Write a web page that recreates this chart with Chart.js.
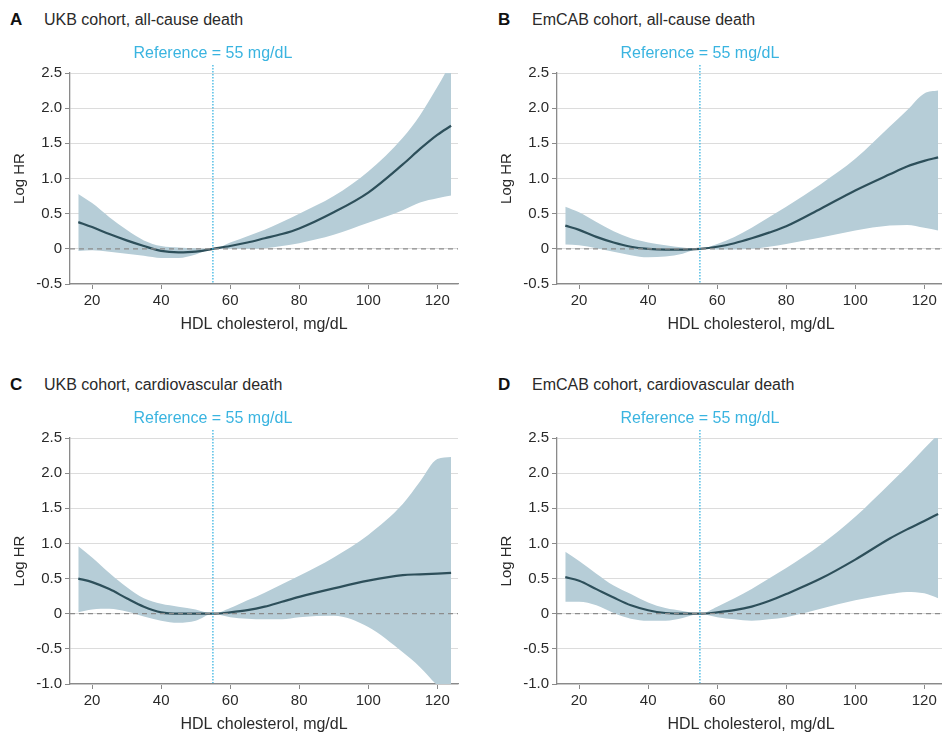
<!DOCTYPE html>
<html>
<head>
<meta charset="utf-8">
<script src="https://cdn.jsdelivr.net/npm/chart.js@4.4.1/dist/chart.umd.min.js"></script>
<style>
  body { margin: 0; background: #fff; width: 942px; height: 734px; overflow: hidden; position: relative; font-family: "Liberation Sans", Arial, sans-serif; }
  canvas { position: absolute; }
  .ttl { position: absolute; font-size: 16px; color: #2a2a2a; white-space: nowrap; line-height: 20px; }
  .ttl b { color: #111; font-size: 17px; position: absolute; left: -34px; }
</style>
</head>
<body>
<div class="ttl" style="left:44px;top:10px"><b>A</b>UKB cohort, all-cause death</div>
<div class="ttl" style="left:532px;top:10px"><b>B</b>EmCAB cohort, all-cause death</div>
<div class="ttl" style="left:44px;top:375px"><b>C</b>UKB cohort, cardiovascular death</div>
<div class="ttl" style="left:532px;top:375px"><b>D</b>EmCAB cohort, cardiovascular death</div>

<canvas id="cA" width="470" height="304" style="left:0;top:30px"></canvas>
<canvas id="cB" width="470" height="304" style="left:487px;top:30px"></canvas>
<canvas id="cC" width="470" height="339" style="left:0;top:395px"></canvas>
<canvas id="cD" width="470" height="339" style="left:487px;top:395px"></canvas>

<script>
// HDL cholesterol grid, mg/dL
const hdl = [16, 20, 25, 30, 35, 40, 45, 50, 55, 60, 65, 70, 75, 80, 90, 100, 110, 115, 120, 124];
const xTicks = [20, 40, 60, 80, 100, 120];
const yTicksTop = [-0.5, 0, 0.5, 1.0, 1.5, 2.0, 2.5];
const yTicksBottom = [-1.0, -0.5, 0, 0.5, 1.0, 1.5, 2.0, 2.5];
const refHdl = 55;

// A: UKB all-cause
const ukbAllEst   = [0.38, 0.31, 0.21, 0.12, 0.04, -0.03, -0.05, -0.04, 0, 0.04, 0.09, 0.15, 0.21, 0.29, 0.52, 0.80, 1.20, 1.42, 1.62, 1.75];
const ukbAllUpper = [0.78, 0.65, 0.45, 0.27, 0.12, 0.04, 0.02, 0.01, 0, 0.09, 0.18, 0.27, 0.38, 0.50, 0.75, 1.10, 1.58, 1.90, 2.30, 2.65];
const ukbAllLower = [-0.03, -0.02, -0.04, -0.07, -0.10, -0.13, -0.13, -0.08, 0, 0, 0, 0.01, 0.04, 0.08, 0.20, 0.37, 0.55, 0.66, 0.72, 0.76];

// B: EmCAB all-cause
const emcAllEst   = [0.33, 0.27, 0.17, 0.09, 0.03, 0.00, -0.01, -0.01, 0, 0.03, 0.08, 0.15, 0.23, 0.32, 0.57, 0.83, 1.06, 1.17, 1.25, 1.30];
const emcAllUpper = [0.60, 0.52, 0.38, 0.25, 0.15, 0.09, 0.05, 0.02, 0, 0.07, 0.17, 0.30, 0.45, 0.60, 0.92, 1.28, 1.74, 1.97, 2.21, 2.25];
const emcAllLower = [0.06, 0.05, 0.01, -0.04, -0.09, -0.12, -0.11, -0.07, 0, -0.01, -0.01, 0.00, 0.03, 0.07, 0.16, 0.26, 0.33, 0.34, 0.30, 0.26];

// C: UKB cardiovascular
const ukbCvEst   = [0.50, 0.45, 0.35, 0.22, 0.10, 0.02, 0.00, 0.00, 0, 0.02, 0.05, 0.10, 0.17, 0.24, 0.36, 0.47, 0.55, 0.56, 0.57, 0.58];
const ukbCvUpper = [0.96, 0.80, 0.58, 0.38, 0.22, 0.14, 0.10, 0.06, 0, 0.08, 0.19, 0.30, 0.42, 0.54, 0.80, 1.12, 1.56, 1.88, 2.20, 2.23];
const ukbCvLower = [0.02, 0.06, 0.07, 0.03, -0.04, -0.10, -0.13, -0.10, 0, -0.05, -0.07, -0.08, -0.08, -0.05, -0.03, -0.19, -0.55, -0.76, -1.02, -1.20];

// D: EmCAB cardiovascular
const emcCvEst   = [0.52, 0.47, 0.35, 0.23, 0.12, 0.05, 0.01, 0.00, 0, 0.02, 0.05, 0.10, 0.18, 0.28, 0.50, 0.77, 1.07, 1.20, 1.32, 1.42];
const emcCvUpper = [0.88, 0.75, 0.57, 0.40, 0.28, 0.16, 0.08, 0.04, 0, 0.10, 0.22, 0.35, 0.50, 0.65, 0.98, 1.38, 1.85, 2.09, 2.35, 2.55];
const emcCvLower = [0.17, 0.17, 0.12, 0.01, -0.07, -0.10, -0.10, -0.06, 0, -0.05, -0.08, -0.10, -0.08, -0.05, 0.07, 0.19, 0.28, 0.31, 0.29, 0.22];

const FONT = "'Liberation Sans', Arial, sans-serif";
const TXT = '#2a2a2a';
const AXIS = '#8a8a8a';

const pts = ys => hdl.map((x, i) => ({ x: x, y: ys[i] }));

const refLines = {
  id: 'refLines',
  afterDatasetsDraw(chart) {
    const { ctx, chartArea: a, scales: { x, y } } = chart;
    const y0 = y.getPixelForValue(0);
    const xr = x.getPixelForValue(refHdl);
    ctx.save();
    // zero line
    ctx.strokeStyle = '#8c8c8c';
    ctx.lineWidth = 1.2;
    ctx.setLineDash([5, 4]);
    ctx.beginPath();
    ctx.moveTo(a.left, y0);
    ctx.lineTo(a.right, y0);
    ctx.stroke();
    // reference line
    ctx.strokeStyle = '#3ab4e0';
    ctx.lineWidth = 1.3;
    ctx.setLineDash([1.5, 1.5]);
    ctx.beginPath();
    ctx.moveTo(xr, a.top - 8);
    ctx.lineTo(xr, a.bottom - 1);
    ctx.stroke();
    ctx.setLineDash([]);
    ctx.fillStyle = '#3ab4e0';
    ctx.font = '16px ' + FONT;
    ctx.textAlign = 'center';
    ctx.textBaseline = 'middle';
    ctx.fillText('Reference = 55 mg/dL', xr, a.top - 19);
    ctx.restore();
  }
};

function makePanel(id, est, upper, lower, yMin, yTicks) {
  new Chart(document.getElementById(id), {
    type: 'line',
    data: {
      datasets: [
        { data: pts(est), borderColor: '#2d4f5a', borderWidth: 2.2, pointRadius: 0, fill: false, cubicInterpolationMode: 'monotone' },
        { data: pts(upper), borderWidth: 0, borderColor: 'rgba(0,0,0,0)', pointRadius: 0, fill: '+1', backgroundColor: '#b6cdd7', cubicInterpolationMode: 'monotone' },
        { data: pts(lower), borderWidth: 0, borderColor: 'rgba(0,0,0,0)', pointRadius: 0, fill: false, cubicInterpolationMode: 'monotone' }
      ]
    },
    options: {
      responsive: false,
      animation: false,
      devicePixelRatio: 1,
      layout: { padding: { top: 43, right: 12, left: 0, bottom: 0 } },
      plugins: { legend: { display: false }, tooltip: { enabled: false } },
      scales: {
        x: {
          type: 'linear',
          min: 13.6,
          max: 126,
          afterBuildTicks: s => { s.ticks = xTicks.map(v => ({ value: v })); },
          afterFit: s => { s.height = 50; },
          grid: { drawOnChartArea: false, color: AXIS, tickLength: 5, tickColor: AXIS },
          border: { color: AXIS, width: 1.3 },
          ticks: { color: TXT, font: { family: FONT, size: 15 }, padding: 3, maxRotation: 0 },
          title: { display: true, text: 'HDL cholesterol, mg/dL', color: TXT, font: { family: FONT, size: 16 }, padding: 0 }
        },
        y: {
          min: yMin,
          max: 2.5,
          afterBuildTicks: s => { s.ticks = yTicks.map(v => ({ value: v })); },
          afterFit: s => { s.width = 70; },
          grid: { color: '#dcdcdc', lineWidth: 1, tickLength: 5, tickColor: AXIS },
          border: { color: AXIS, width: 1.3 },
          ticks: { color: TXT, font: { family: FONT, size: 15 }, padding: 3, callback: v => v === 0 ? '0' : v.toFixed(1) },
          title: { display: true, text: 'Log HR', color: TXT, font: { family: FONT, size: 15 }, padding: 11 }
        }
      }
    },
    plugins: [refLines]
  });
}

makePanel('cA', ukbAllEst, ukbAllUpper, ukbAllLower, -0.5, yTicksTop);
makePanel('cB', emcAllEst, emcAllUpper, emcAllLower, -0.5, yTicksTop);
makePanel('cC', ukbCvEst, ukbCvUpper, ukbCvLower, -1.0, yTicksBottom);
makePanel('cD', emcCvEst, emcCvUpper, emcCvLower, -1.0, yTicksBottom);
</script>
</body>
</html>
